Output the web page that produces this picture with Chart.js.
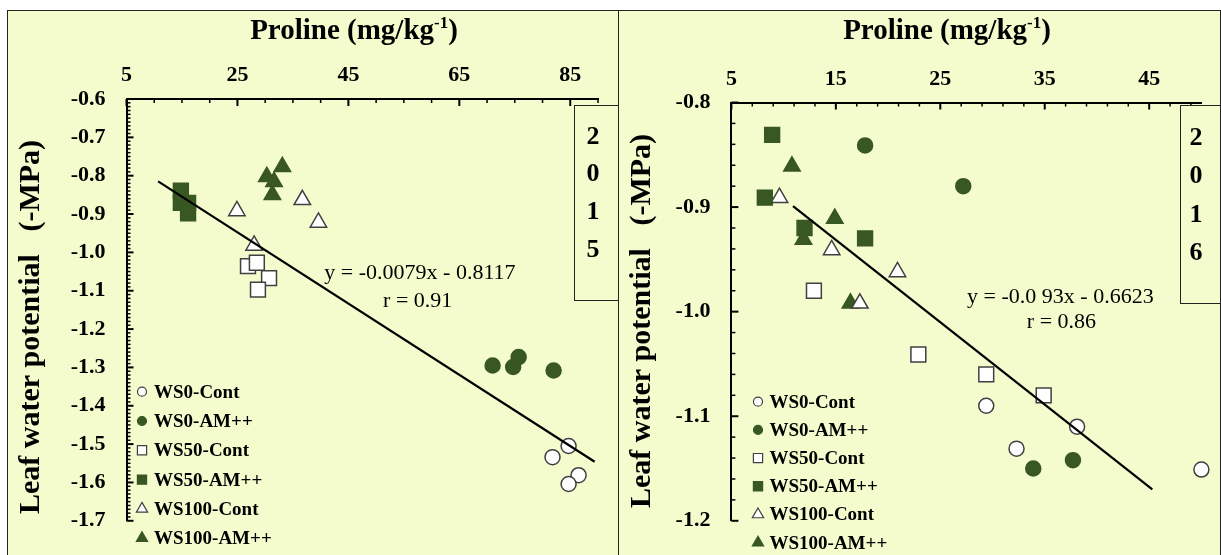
<!DOCTYPE html>
<html>
<head>
<meta charset="utf-8">
<script src="https://cdn.jsdelivr.net/npm/chart.js@4.4.0/dist/chart.umd.min.js"></script>
<style>
  body { margin: 0; background: #fff; width: 1221px; height: 555px; overflow: hidden; position: relative; }
  .panel { position: absolute; top: 10px; height: 545px; background: #f4fbcd; border: 1px solid #222; border-bottom: none; box-sizing: border-box; }
  #p1 { left: 7px; width: 613px; }
  #p2 { left: 618px; width: 603px; }
  canvas { position: absolute; left: 0; top: 0; }
</style>
</head>
<body>
<div class="panel" id="p1"><canvas id="chart2015" width="611" height="544"></canvas></div>
<div class="panel" id="p2"><canvas id="chart2016" width="601" height="544"></canvas></div>
<script>
const SERIES = ['WS0-Cont', 'WS0-AM++', 'WS50-Cont', 'WS50-AM++', 'WS100-Cont', 'WS100-AM++']

// 2015 - proline (x) vs leaf water potential (y)
const x2015 = [
  [81.8, 84.7, 86.5, 84.7],
  [71.0, 74.7, 75.7, 82.0],
  [26.9, 28.5, 30.7, 28.7],
  [14.8, 14.8, 16.1, 16.1],
  [24.9, 36.7, 39.6, 28.0],
  [30.3, 33.1, 31.6, 31.3]
]
const y2015 = [
  [-1.534, -1.505, -1.581, -1.604],
  [-1.295, -1.299, -1.273, -1.308],
  [-1.036, -1.027, -1.067, -1.097],
  [-0.839, -0.871, -0.871, -0.898],
  [-0.892, -0.863, -0.922, -0.982],
  [-0.803, -0.777, -0.816, -0.850]
]
const trend2015 = [{ x: 10.7, y: -0.815 }, { x: 89.4, y: -1.546 }]
const xTicks2015 = [5, 25, 45, 65, 85]
const yTicks2015 = [-0.6, -0.7, -0.8, -0.9, -1.0, -1.1, -1.2, -1.3, -1.4, -1.5, -1.6, -1.7]

// 2016
const x2016 = [
  [29.4, 38.1, 32.3, 50.0],
  [17.8, 27.2, 33.9, 37.7],
  [12.9, 22.9, 29.4, 34.9],
  [8.9, 8.2, 12.0, 17.8],
  [9.6, 14.6, 20.9, 17.3],
  [10.8, 14.9, 11.9, 16.4]
]
const y2016 = [
  [-1.090, -1.110, -1.131, -1.151],
  [-0.841, -0.880, -1.150, -1.142],
  [-0.980, -1.041, -1.060, -1.080],
  [-0.831, -0.891, -0.920, -0.930],
  [-0.891, -0.941, -0.962, -0.992],
  [-0.861, -0.911, -0.931, -0.992]
]
const trend2016 = [{ x: 10.9, y: -0.899 }, { x: 45.3, y: -1.170 }]
const xTicks2016 = [5, 15, 25, 35, 45]
const yTicks2016 = [-0.8, -0.9, -1.0, -1.1, -1.2]

const FONT = "'Liberation Serif', 'Times New Roman', serif"
const GREEN = '#385723'
const STYLES = [
  { shape: 'circle', fill: '#ffffff', stroke: '#404040', r: 7.5, lr: 4.5 },
  { shape: 'circle', fill: GREEN, stroke: GREEN, r: 7.5, lr: 4.5 },
  { shape: 'rect', fill: '#ffffff', stroke: '#404040', r: 10.5, lr: 6.5 },
  { shape: 'rect', fill: GREEN, stroke: GREEN, r: 10.5, lr: 6.5 },
  { shape: 'triangle', fill: '#ffffff', stroke: '#404040', r: 9.5, lr: 6.5 },
  { shape: 'triangle', fill: GREEN, stroke: GREEN, r: 9.5, lr: 6.5 }
]

// tick marks pointing into the plot, titles, equation, year box and legend
const decor = {
  id: 'decor',
  afterDraw(chart, args, o) {
    const ctx = chart.ctx
    const xs = chart.scales.x
    const ys = chart.scales.y
    const area = chart.chartArea
    ctx.save()
    ctx.strokeStyle = '#000'

    const near = (v, step) => Math.abs(v / step - Math.round(v / step)) < 1e-6
    for (let v = xs.min; v <= xs.max + 1e-9; v += o.xMinor) {
      const px = xs.getPixelForValue(v)
      const major = near(v - xs.min, o.xMajor)
      ctx.lineWidth = major ? 2 : 1.5
      ctx.beginPath()
      ctx.moveTo(px, area.top)
      ctx.lineTo(px, area.top + (major ? 7 : 4))
      ctx.stroke()
    }
    const nY = Math.round((ys.max - ys.min) / o.yMinor)
    for (let i = 0; i <= nY; i++) {
      const v = ys.max - i * o.yMinor
      const py = ys.getPixelForValue(v)
      const major = near(i * o.yMinor, 0.1)
      ctx.lineWidth = major ? 2 : 1.5
      ctx.beginPath()
      ctx.moveTo(area.left, py)
      ctx.lineTo(area.left + (major ? 7 : 4), py)
      ctx.stroke()
    }

    ctx.fillStyle = '#000'
    ctx.textBaseline = 'middle'

    // x title with superscript
    const big = 'bold ' + o.titleSize + 'px ' + FONT
    const small = 'bold ' + Math.round(o.titleSize * 0.6) + 'px ' + FONT
    ctx.font = big
    const w1 = ctx.measureText('Proline (mg/kg').width
    const w3 = ctx.measureText(')').width
    ctx.font = small
    const w2 = ctx.measureText('-1').width
    let tx = o.title[0] - (w1 + w2 + w3) / 2
    ctx.textAlign = 'left'
    ctx.font = big
    ctx.fillText('Proline (mg/kg', tx, o.title[1])
    ctx.font = small
    ctx.fillText('-1', tx + w1, o.title[1] - o.titleSize * 0.3)
    ctx.font = big
    ctx.fillText(')', tx + w1 + w2, o.title[1])

    // y title
    ctx.save()
    ctx.translate(o.yTitle[0], o.yTitle[1])
    ctx.rotate(-Math.PI / 2)
    ctx.textAlign = 'center'
    ctx.font = 'bold ' + o.yTitleSize + 'px ' + FONT
    ctx.fillText('Leaf water potential   (-MPa)', 0, 0)
    ctx.restore()

    // regression equation
    ctx.textAlign = 'center'
    ctx.font = o.eqSize + 'px ' + FONT
    o.eq.forEach((t, i) => {
      ctx.fillText(t, xs.getPixelForValue(o.eqAt[i][0]), ys.getPixelForValue(o.eqAt[i][1]))
    })

    // year box
    const b = o.box
    ctx.fillStyle = '#f4fbcd'
    ctx.fillRect(b[0], b[1], b[2], b[3])
    ctx.lineWidth = 1
    ctx.strokeStyle = '#222'
    ctx.strokeRect(b[0] + 0.5, b[1] + 0.5, b[2], b[3])
    ctx.fillStyle = '#000'
    ctx.font = 'bold 26px ' + FONT
    o.year.split('').forEach((d, i) => {
      ctx.fillText(d, o.yearAt[0], o.yearAt[1] + i * o.yearAt[2])
    })

    // legend
    ctx.textAlign = 'left'
    ctx.font = 'bold 19px ' + FONT
    SERIES.forEach((name, i) => {
      const s = STYLES[i]
      const ly = o.legend.y + i * o.legend.dy
      ctx.fillStyle = s.fill
      ctx.strokeStyle = s.stroke
      ctx.lineWidth = 1.2
      Chart.helpers.drawPoint(ctx, { pointStyle: s.shape, radius: s.lr, rotation: 0, borderWidth: 1.2 }, o.legend.x, ly)
      ctx.fillStyle = '#000'
      ctx.fillText(name, o.legend.tx, ly + 1)
    })
    ctx.restore()
  }
}

function makeChart(id, xv, yv, trend, xTicks, yTicks, range, fit, deco) {
  const datasets = SERIES.map((name, i) => ({
    label: name,
    data: xv[i].map((x, j) => ({ x: x, y: yv[i][j] })),
    pointStyle: STYLES[i].shape,
    pointRadius: STYLES[i].r,
    backgroundColor: STYLES[i].fill,
    borderColor: STYLES[i].stroke,
    borderWidth: 1.5,
    clip: false
  }))
  datasets.push({
    type: 'line',
    label: 'trend',
    data: trend,
    borderColor: '#000',
    borderWidth: 2.2,
    pointRadius: 0,
    order: -1,
    clip: false
  })

  const tickFont = { family: FONT, size: 22, weight: 'bold' }
  return new Chart(document.getElementById(id), {
    type: 'scatter',
    data: { datasets: datasets },
    options: {
      responsive: false,
      animation: false,
      events: [],
      layout: { padding: fit.padding },
      plugins: {
        legend: { display: false },
        tooltip: { enabled: false },
        decor: deco
      },
      scales: {
        x: {
          type: 'linear',
          position: 'top',
          min: range.x[0],
          max: range.x[1],
          afterBuildTicks: s => { s.ticks = xTicks.map(v => ({ value: v })) },
          afterFit: s => { s.height = fit.top },
          grid: { display: false, drawTicks: false },
          border: { display: true, color: '#000', width: 2 },
          ticks: { color: '#000', font: tickFont, padding: 10, maxRotation: 0 }
        },
        y: {
          type: 'linear',
          min: range.y[0],
          max: range.y[1],
          afterBuildTicks: s => { s.ticks = yTicks.map(v => ({ value: v })) },
          afterFit: s => { s.width = fit.left },
          grid: { display: false, drawTicks: false },
          border: { display: true, color: '#000', width: 2 },
          ticks: {
            color: '#000',
            font: tickFont,
            padding: 21,
            callback: v => v.toFixed(1)
          }
        }
      }
    },
    plugins: [decor]
  })
}

makeChart('chart2015', x2015, y2015, trend2015, xTicks2015, yTicks2015,
  { x: [5, 90], y: [-1.7, -0.6] },
  { left: 118.5, top: 88, padding: { left: 0, top: 0, right: 21, bottom: 26 } },
  {
    xMinor: 5, xMajor: 20, yMinor: 0.01,
    title: [346, 21], titleSize: 29,
    yTitle: [23, 316], yTitleSize: 30,
    eq: ['y = -0.0079x - 0.8117', 'r = 0.91'], eqAt: [[57.9, -1.055], [57.5, -1.127]], eqSize: 22,
    year: '2015', box: [566, 94, 45, 195], yearAt: [585, 126, 37.7],
    legend: { x: 134, tx: 146, y: 380.7, dy: 29.3 }
  })

makeChart('chart2016', x2016, y2016, trend2016, xTicks2016, yTicks2016,
  { x: [5, 50], y: [-1.2, -0.8] },
  { left: 112.4, top: 91.5, padding: { left: 0, top: 0, right: 18.6, bottom: 23.3 } },
  {
    xMinor: 2, xMajor: 10, yMinor: 0.02,
    title: [328, 21], titleSize: 29,
    yTitle: [23, 310], yTitleSize: 30,
    eq: ['y = -0.0 93x - 0.6623', 'r = 0.86'], eqAt: [[36.5, -0.986], [36.6, -1.010]], eqSize: 22,
    year: '2016', box: [561, 94, 45, 198], yearAt: [577, 127, 38.5],
    legend: { x: 139, tx: 150.5, y: 390.7, dy: 28.2 }
  })
</script>
</body>
</html>
